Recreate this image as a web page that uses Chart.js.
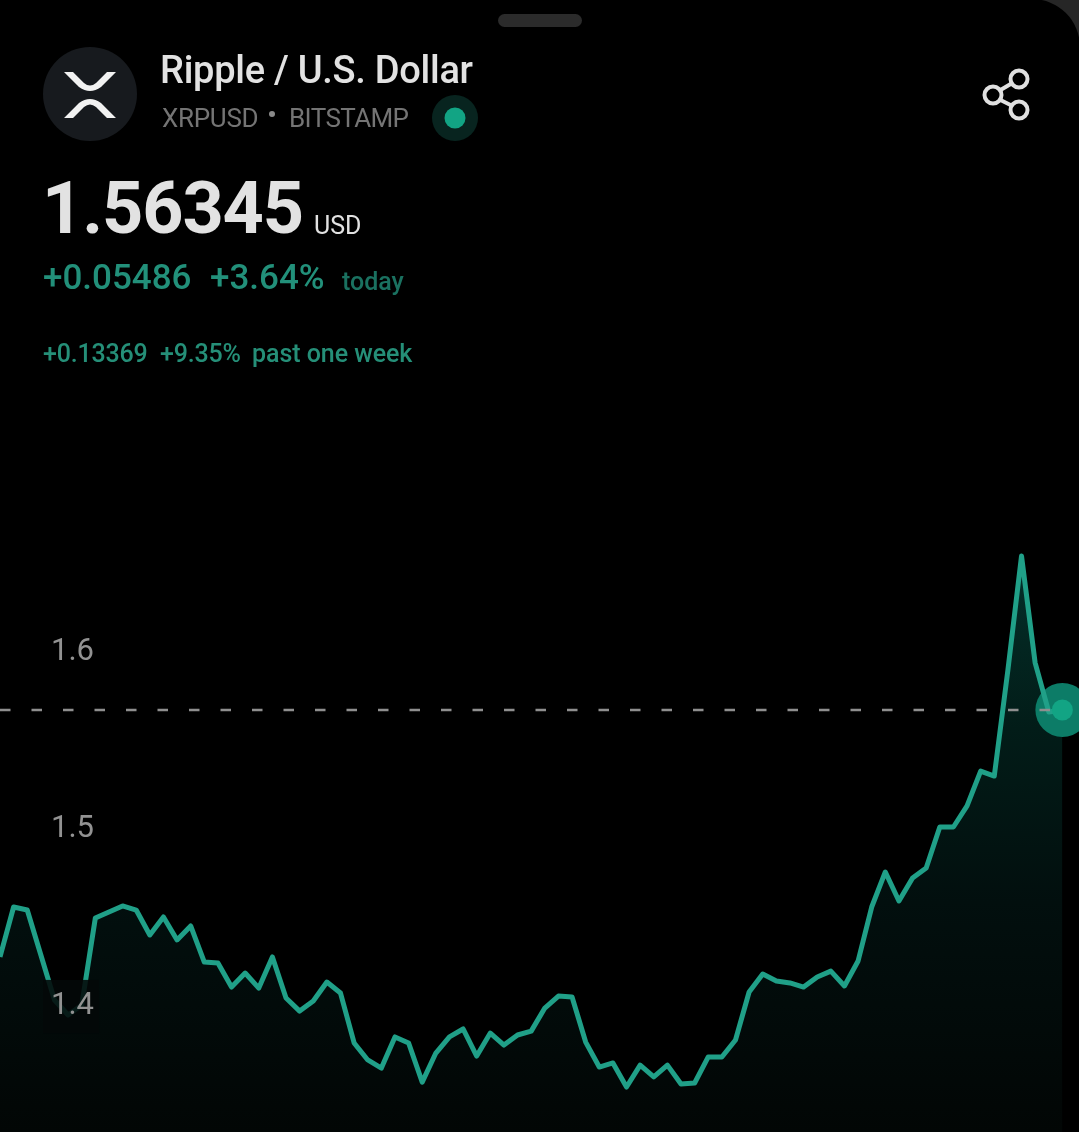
<!DOCTYPE html>
<html>
<head>
<meta charset="utf-8">
<script src="https://cdn.jsdelivr.net/npm/chart.js@4/dist/chart.umd.min.js"></script>
<style>
html,body{margin:0;padding:0;background:#000;width:1079px;height:1132px;overflow:hidden;font-family:Roboto,sans-serif}
#wrap{position:relative;width:1079px;height:1132px;overflow:hidden}
canvas{position:absolute;left:0;top:0}
.t{position:absolute;white-space:nowrap;line-height:1}
svg{position:absolute}
</style>
</head>
<body>
<div id="wrap">
<canvas id="c" width="1079" height="1132"></canvas>
<div style="position:absolute;left:498px;top:14px;width:84px;height:13px;border-radius:7px;background:#2b2b2b"></div>
<div style="position:absolute;right:-40px;top:-40px;width:90px;height:90px;background:#262626"></div>
<div style="position:absolute;right:-1px;top:-1px;width:60px;height:70px;background:#000;border-top-right-radius:48px"></div>
<svg style="left:42px;top:46px" width="96" height="96" viewBox="0 0 96 96">
<circle cx="48" cy="48" r="47" fill="#171a1e"/>
<path d="M22 26 L31 26 L42 37 Q48 42 54 37 L65 26 L74 26 L59 41 Q48 49 37 41 Z" fill="#f2f2f2"/>
<path d="M22 72 L31 72 L42 61 Q48 56 54 61 L65 72 L74 72 L59 57 Q48 49 37 57 Z" fill="#f2f2f2"/>
</svg>
<div class="t" style="left:160px;top:51px;font-size:38px;font-weight:500;letter-spacing:-0.27px;color:#e2e2e2">Ripple / U.S. Dollar</div>
<div class="t" style="left:162px;top:105px;font-size:26px;letter-spacing:-0.3px;color:#747474">XRPUSD</div>
<svg style="left:266px;top:108px" width="12" height="12"><circle cx="6" cy="6" r="3" fill="#8a8a8a"/></svg>
<div class="t" style="left:289px;top:105px;font-size:26px;letter-spacing:-0.6px;color:#747474">BITSTAMP</div>
<svg style="left:431px;top:94px" width="48" height="48"><circle cx="24" cy="24" r="23" fill="#08241f"/><circle cx="24" cy="24" r="10.5" fill="#12a484"/></svg>
<div class="t" style="left:42px;top:173px;font-size:72px;font-weight:700;letter-spacing:-1.1px;color:#e2e2e2">1.56345</div>
<div class="t" style="left:314px;top:213px;font-size:25px;color:#e2e2e2">USD</div>
<div class="t" style="left:43px;top:260px;font-size:35px;font-weight:500;color:#22907a">+0.05486</div>
<div class="t" style="left:210px;top:260px;font-size:35px;font-weight:500;color:#22907a">+3.64%</div>
<div class="t" style="left:342px;top:269px;font-size:25px;font-weight:500;color:#1a7160">today</div>
<div class="t" style="left:43px;top:341px;font-size:25px;font-weight:500;letter-spacing:-0.2px;color:#258f78">+0.13369</div>
<div class="t" style="left:160px;top:341px;font-size:25px;font-weight:500;letter-spacing:-0.2px;color:#258f78">+9.35%</div>
<div class="t" style="left:252px;top:341px;font-size:25px;font-weight:500;letter-spacing:-0.05px;color:#258f78">past one week</div>
<svg style="left:980px;top:66px" width="54" height="58" viewBox="0 0 54 58" fill="none" stroke="#e0e0e0" stroke-width="4">
<circle cx="39" cy="13" r="8.5"/><circle cx="13" cy="29" r="8.5"/><circle cx="39" cy="44" r="8.5"/>
<path d="M20.5 24 L31.5 17.5 M20.5 34 L31.5 39.5"/>
</svg>
</div>
<script>
const prices = [1.4266,1.4548,1.4531,1.4277,1.4023,1.3938,1.3994,1.4486,1.4520,1.4554,
1.4531,1.4390,1.4492,1.4362,1.4441,1.4237,1.4232,1.4096,1.4175,1.4090,
1.4266,1.4034,1.3960,1.4017,1.4124,1.4062,1.3780,1.3684,1.3638,1.3814,
1.3780,1.3559,1.3723,1.3814,1.3859,1.3706,1.3836,1.3768,1.3825,1.3847,
1.3977,1.4045,1.4040,1.3785,1.3644,1.3667,1.3531,1.3655,1.3588,1.3655,
1.3548,1.3554,1.3701,1.3701,1.3797,1.4068,1.4169,1.4130,1.4119,1.4096,
1.4153,1.4186,1.4102,1.4243,1.4548,1.4746,1.4582,1.4712,1.4768,1.5000,
1.5000,1.5119,1.5316,1.5288,1.5887,1.6531,1.5927,1.5650,1.5661];
const yTicks = [1.4,1.5,1.6];
const backdropTick = 1.4;
const currentLevel = 1.5661;
const xMax = 79.22, yMin = 1.3277, yMax = 1.9672;

const lineData = prices.map((v,i)=>({x:i,y:v}));
const last = lineData[lineData.length-1];

new Chart(document.getElementById('c'),{
  type:'line',
  data:{datasets:[
    {data:[last],order:1,showLine:false,pointRadius:10.5,pointBackgroundColor:'#12a484',pointBorderWidth:0},
    {data:[{x:0,y:currentLevel},{x:last.x,y:currentLevel}],order:2,borderColor:'#8f8f8f',borderWidth:2.5,borderDash:[10.5,21],pointRadius:0,fill:false},
    {data:lineData,order:3,borderColor:'#20a088',borderWidth:5,pointRadius:0,tension:0,borderJoinStyle:'round',fill:false},
    {data:[last],order:4,showLine:false,pointRadius:27,pointBackgroundColor:'#0c7c67',pointBorderWidth:0},
    {data:lineData,order:5,borderWidth:0,borderColor:'rgba(0,0,0,0)',pointRadius:0,tension:0,fill:'start',
     backgroundColor:(ctx)=>{
       const a=ctx.chart.chartArea; if(!a) return 'transparent';
       const g=ctx.chart.ctx.createLinearGradient(0,556,0,a.bottom);
       g.addColorStop(0,'#04302a');g.addColorStop(0.3,'#021c18');g.addColorStop(0.6,'#020f0e');g.addColorStop(1,'#020605');
       return g;
     }}
  ]},
  options:{
    responsive:false,animation:false,
    layout:{padding:0,autoPadding:false},
    plugins:{legend:{display:false},tooltip:{enabled:false}},
    scales:{
      x:{type:'linear',min:0,max:xMax,display:false},
      y:{type:'linear',min:yMin,max:yMax,
        afterBuildTicks:(s)=>{s.ticks=yTicks.map(v=>({value:v}));},
        afterFit:(s)=>{s.width=0;s.paddingTop=0;s.paddingBottom=0;},
        grid:{display:false,drawTicks:false},border:{display:false},
        ticks:{mirror:true,padding:51,z:1,color:'#929292',labelOffset:2.5,
          font:{family:'Roboto',size:31,weight:400},
          callback:(v)=>v.toFixed(1),
          showLabelBackdrop:true,
          backdropColor:(ctx)=>ctx.tick && ctx.tick.value===backdropTick?'rgba(3,8,8,0.88)':'rgba(0,0,0,0)',
          backdropPadding:{left:8,right:5,top:8,bottom:8}}
      }
    }
  }
});
</script>
</body>
</html>
